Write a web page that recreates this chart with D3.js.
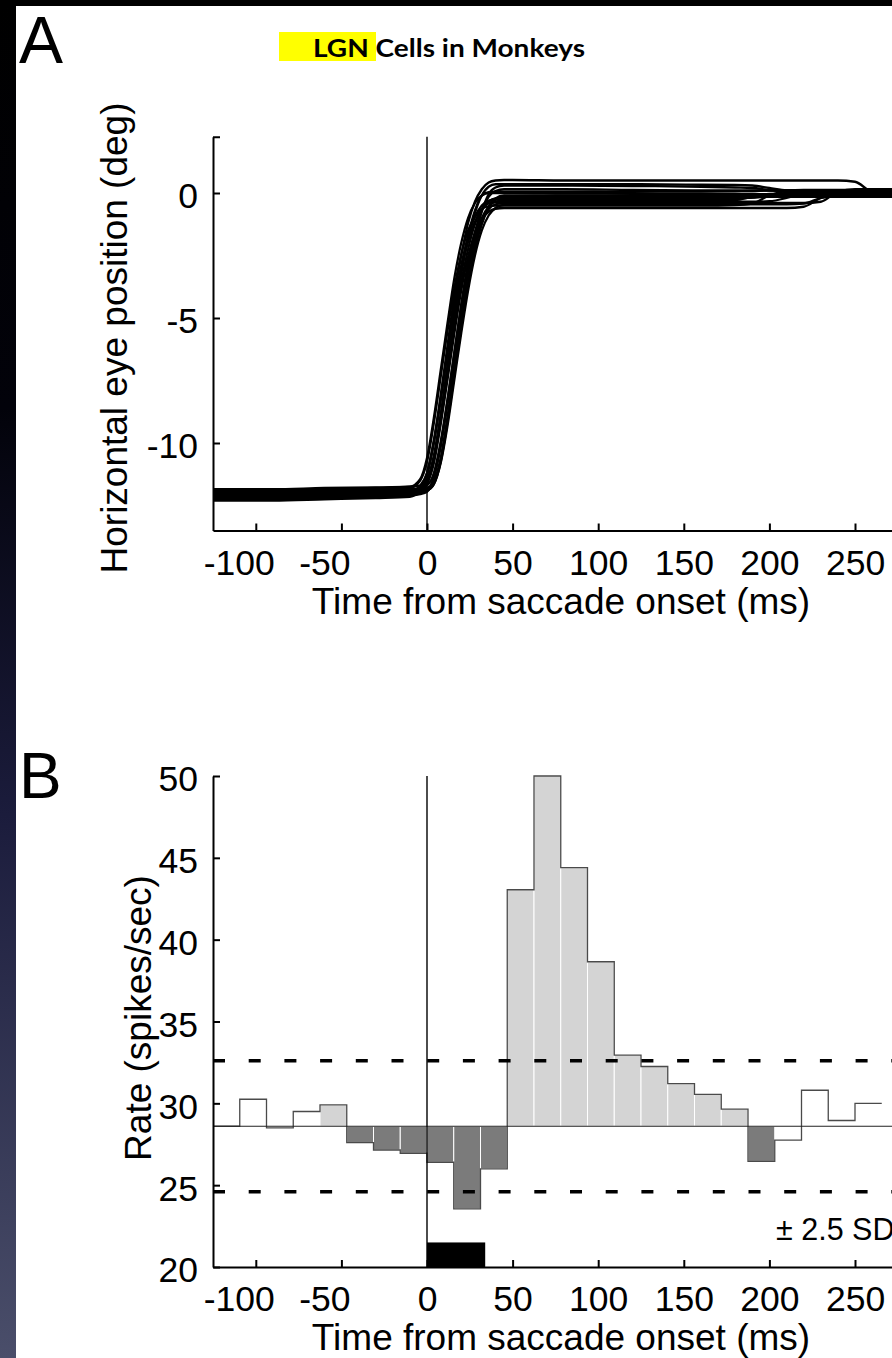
<!DOCTYPE html>
<html>
<head>
<meta charset="utf-8">
<script src="https://cdn.jsdelivr.net/npm/d3@7"></script>
<style>
  html, body { margin: 0; padding: 0; background: #fff; }
  svg { display: block; }
  text { font-family: "Liberation Sans", Arial, Helvetica, sans-serif; fill: #000; }
</style>
</head>
<body>
<svg id="chart" width="892" height="1358"></svg>
<script>
// ---------------- DATA ----------------
const titleText = "LGN Cells in Monkeys";
const panelLabels = ["A", "B"];
const xLabelText = "Time from saccade onset (ms)";
const eyeYLabel = "Horizontal eye position (deg)";
const rateYLabel = "Rate (spikes/sec)";
const sdLabel = "\u00B1 2.5 SD";

const timeDomain = [-125, 300];
const xTickValues = [-100, -50, 0, 50, 100, 150, 200, 250, 300];
const eyeDomain = [-13.5, 2.25];
const eyeTickValues = [-10, -5, 0, 2.25];
const rateDomain = [20, 50];
const rateTickValues = [20, 25, 30, 35, 40, 45, 50];

// Panel A: eye traces sampled at these times (ms)
const traceTimes = [-125, -90, -60, -30, -10, -4, 0, 4, 8, 12, 16, 20, 24, 28, 32, 36, 40, 45, 50, 80, 120, 160, 180, 190, 200, 210, 220, 230, 240, 250, 260, 270, 300];
const eyeTrace1  = [-12.15,-12.15,-12.1,-12.05,-12.0,-11.75,-11.2,-9.9,-8.1,-6.1,-4.1,-2.5,-1.2,-0.35,0.15,0.42,0.5,0.52,0.52,0.5,0.5,0.5,0.5,0.5,0.5,0.5,0.5,0.5,0.5,0.45,0.05,0.0,0.0];
const eyeTrace2  = [-12.0,-12.0,-11.95,-11.9,-11.85,-11.8,-11.55,-10.6,-8.95,-7.0,-5.1,-3.25,-1.85,-0.8,-0.1,0.25,0.35,0.35,0.35,0.35,0.35,0.33,0.32,0.3,0.2,0.1,0.08,0.08,0.08,0.08,0.08,0.08,0.08];
const eyeTrace3  = [-12.2,-12.2,-12.15,-12.1,-12.05,-12.0,-11.9,-11.35,-10.05,-8.3,-6.35,-4.45,-2.8,-1.55,-0.7,-0.15,0.08,0.15,0.15,0.15,0.12,0.1,0.1,0.1,0.1,0.1,0.1,0.1,0.1,0.1,0.1,0.1,0.1];
const eyeTrace4  = [-11.9,-11.9,-11.85,-11.8,-11.75,-11.45,-10.6,-9.0,-7.1,-5.2,-3.4,-2.0,-1.0,-0.4,-0.1,0.0,0.0,0.0,0.0,-0.02,-0.03,-0.03,-0.04,-0.04,-0.05,-0.05,-0.05,-0.05,-0.05,-0.05,-0.05,-0.05,-0.05];
const eyeTrace5  = [-12.1,-12.1,-12.05,-12.0,-11.95,-11.9,-11.85,-11.6,-10.7,-9.1,-7.2,-5.35,-3.6,-2.2,-1.2,-0.55,-0.22,-0.1,-0.1,-0.1,-0.1,-0.1,-0.1,-0.1,-0.1,-0.1,-0.1,-0.1,-0.1,-0.1,-0.1,-0.1,-0.1];
const eyeTrace6  = [-12.25,-12.25,-12.2,-12.15,-12.1,-12.0,-11.6,-10.7,-9.1,-7.25,-5.35,-3.6,-2.25,-1.25,-0.65,-0.35,-0.22,-0.2,-0.2,-0.2,-0.2,-0.2,-0.2,-0.18,-0.1,0.0,0.03,0.03,0.03,0.03,0.03,0.03,0.03];
const eyeTrace7  = [-12.0,-12.0,-11.95,-11.9,-11.85,-11.8,-11.7,-11.2,-9.95,-8.25,-6.4,-4.55,-2.95,-1.8,-1.0,-0.55,-0.35,-0.3,-0.3,-0.3,-0.3,-0.3,-0.28,-0.15,-0.04,-0.03,-0.03,-0.03,-0.03,-0.03,-0.03,-0.03,-0.03];
const eyeTrace8  = [-12.3,-12.3,-12.25,-12.2,-12.15,-11.9,-11.3,-10.0,-8.3,-6.4,-4.6,-3.05,-1.95,-1.15,-0.65,-0.42,-0.36,-0.35,-0.35,-0.35,-0.35,-0.35,-0.35,-0.35,-0.33,-0.2,0.0,0.05,0.05,0.05,0.05,0.05,0.05];
const eyeTrace9  = [-12.1,-12.1,-12.05,-12.0,-11.95,-11.95,-11.9,-11.65,-10.8,-9.3,-7.45,-5.6,-3.9,-2.5,-1.5,-0.9,-0.6,-0.47,-0.45,-0.45,-0.45,-0.45,-0.45,-0.45,-0.45,-0.45,-0.42,-0.2,-0.12,-0.12,-0.12,-0.12,-0.12];
const eyeTrace10 = [-12.2,-12.2,-12.15,-12.1,-12.05,-11.95,-11.65,-10.8,-9.25,-7.45,-5.6,-3.9,-2.55,-1.6,-1.05,-0.75,-0.63,-0.6,-0.6,-0.6,-0.6,-0.6,-0.6,-0.6,-0.6,-0.6,-0.55,-0.2,-0.08,-0.07,-0.07,-0.07,-0.07];
const eyeTrace11 = [-11.95,-11.95,-11.9,-11.85,-11.8,-11.5,-10.75,-9.2,-7.35,-5.5,-3.8,-2.45,-1.5,-0.95,-0.65,-0.53,-0.5,-0.5,-0.5,-0.5,-0.5,-0.5,-0.48,-0.42,-0.1,0.08,0.12,0.12,0.12,0.12,0.12,0.12,0.12];
const eyeTrace12 = [-12.05,-12.05,-12.0,-11.95,-11.9,-11.85,-11.8,-11.55,-10.6,-8.95,-6.95,-5.0,-3.2,-1.8,-0.75,-0.05,0.22,0.3,0.3,0.3,0.28,0.25,0.22,0.2,0.12,0.07,0.06,0.06,0.06,0.06,0.06,0.06,0.06];
const eyeTrace13 = [-12.1,-12.1,-12.05,-12.0,-11.95,-11.7,-11.2,-9.95,-8.2,-6.3,-4.45,-2.9,-1.75,-0.95,-0.5,-0.3,-0.26,-0.25,-0.25,-0.25,-0.25,-0.25,-0.22,-0.18,-0.15,-0.15,-0.15,-0.15,-0.15,-0.15,-0.15,-0.15,-0.15];
const eyeTrace14 = [-12.25,-12.25,-12.2,-12.15,-12.1,-12.05,-11.95,-11.4,-10.15,-8.45,-6.6,-4.75,-3.15,-1.95,-1.1,-0.65,-0.45,-0.4,-0.4,-0.4,-0.4,-0.4,-0.4,-0.4,-0.4,-0.4,-0.4,-0.35,0.05,0.15,0.15,0.15,0.15];
const eyeTrace15 = [-11.85,-11.85,-11.8,-11.78,-11.75,-11.7,-11.45,-10.5,-8.85,-6.9,-4.95,-3.1,-1.7,-0.7,-0.1,0.03,0.05,0.05,0.05,0.05,0.05,0.06,0.07,0.08,0.1,0.1,0.1,0.1,0.1,0.1,0.1,0.1,0.1];
const eyeTrace16 = [-12.15,-12.15,-12.1,-12.05,-12.0,-11.95,-11.9,-11.65,-10.75,-9.15,-7.25,-5.4,-3.65,-2.25,-1.25,-0.6,-0.27,-0.16,-0.15,-0.15,-0.15,-0.15,-0.15,-0.13,-0.08,-0.03,-0.02,-0.02,-0.02,-0.02,-0.02,-0.02,-0.02];
const eyeTraces = [eyeTrace1, eyeTrace2, eyeTrace3, eyeTrace4, eyeTrace5, eyeTrace6, eyeTrace7, eyeTrace8,
                   eyeTrace9, eyeTrace10, eyeTrace11, eyeTrace12, eyeTrace13, eyeTrace14, eyeTrace15, eyeTrace16];

// Panel B: peri-saccadic histogram
const binWidth = 15.625;
const binStarts = [-125,-109.375,-93.75,-78.125,-62.5,-46.875,-31.25,-15.625,0,15.625,31.25,46.875,62.5,78.125,93.75,109.375,125,140.625,156.25,171.875,187.5,203.125,218.75,234.375,250];
const rateValues = [28.6,30.25,28.5,29.5,29.9,27.6,27.15,26.95,26.4,23.55,26.0,43.05,50.0,44.4,38.65,32.95,32.25,31.2,30.55,29.65,26.45,27.75,30.8,28.95,30.0];
const binClass = ["ns","ns","ns","ns","up","down","down","down","down","down","down","up","up","up","up","up","up","up","up","up","down","ns","ns","ns","ns"];
const meanRate = 28.6;
const sdBounds = [24.6, 32.6];
const saccadeSpan = [0, 34];
const saccadeBarRange = [20, 21.5];

// ---------------- DRAWING ----------------
const svg = d3.select("#chart");
const W = 892, H = 1358;

const defs = svg.append("defs");
const grad = defs.append("linearGradient").attr("id", "leftStrip")
  .attr("x1", 0).attr("y1", 0).attr("x2", 0).attr("y2", 1);
grad.append("stop").attr("offset", "0%").attr("stop-color", "#000000");
grad.append("stop").attr("offset", "30%").attr("stop-color", "#02020a");
grad.append("stop").attr("offset", "60%").attr("stop-color", "#1b1c3c");
grad.append("stop").attr("offset", "100%").attr("stop-color", "#4a4e6a");
svg.append("rect").attr("x", 0).attr("y", 0).attr("width", W).attr("height", H).attr("fill", "#fff");
svg.append("rect").attr("x", 0).attr("y", 0).attr("width", 16).attr("height", H).attr("fill", "url(#leftStrip)");
svg.append("rect").attr("x", 0).attr("y", 0).attr("width", W).attr("height", 6).attr("fill", "#000");

// title
svg.append("rect").attr("x", 279).attr("y", 32).attr("width", 97).attr("height", 29).attr("fill", "#ffff00");
svg.append("text").attr("x", 313).attr("y", 56.5)
  .style("font-family", "Lato, 'Open Sans', sans-serif").style("font-weight", 700).style("font-size", "25px")
  .attr("textLength", 272).attr("lengthAdjust", "spacingAndGlyphs")
  .text(titleText);

// panel letters
svg.append("text").attr("x", 19).attr("y", 63).style("font-size", "66px").text(panelLabels[0]);
svg.append("text").attr("x", 19).attr("y", 798).style("font-size", "64px").text(panelLabels[1]);

const x = d3.scaleLinear().domain(timeDomain).range([213, 213 + 425 * 1.712]);
const yEye = d3.scaleLinear().domain(eyeDomain).range([530.5, 136.75]);
const yRate = d3.scaleLinear().domain(rateDomain).range([1267, 776]);

const tickFont = "35.5px";
const labelFont = "37px";

function styleAxis(g) {
  g.select(".domain").attr("stroke", "#000").attr("stroke-width", 2);
  g.selectAll(".tick line").attr("stroke", "#000").attr("stroke-width", 2);
  g.selectAll(".tick text").style("font-size", tickFont).style("font-family", "'Liberation Sans', Arial, sans-serif").attr("fill", "#000");
}

function drawXAxis(yPos) {
  const g = svg.append("g").attr("transform", `translate(0,${yPos})`)
    .call(d3.axisBottom(x).tickValues(xTickValues).tickSize(-7).tickSizeOuter(0).tickPadding(19));
  styleAxis(g);
  g.selectAll(".tick text").text(d => d < 0 ? "-" + Math.abs(d) : d).attr("dx", d => d < 0 ? -17 : 0);
  return g;
}

// ---------- Panel A ----------
const gA = svg.append("g");
gA.append("line").attr("x1", x(0)).attr("x2", x(0)).attr("y1", yEye(eyeDomain[1])).attr("y2", yEye(eyeDomain[0]))
  .attr("stroke", "#000").attr("stroke-width", 1.4);

const line = d3.line().x((d, i) => x(traceTimes[i])).y(d => yEye(d)).curve(d3.curveMonotoneX);
gA.selectAll("path.trace").data(eyeTraces).join("path").attr("class", "trace")
  .attr("d", line).attr("fill", "none").attr("stroke", "#000").attr("stroke-width", 2.3);

drawXAxis(yEye(eyeDomain[0]));
const gAy = svg.append("g").attr("transform", `translate(${x(timeDomain[0])},0)`)
  .call(d3.axisLeft(yEye).tickValues(eyeTickValues).tickSize(-7).tickSizeOuter(0).tickPadding(15)
    .tickFormat(d => d === 2.25 ? "" : (d < 0 ? "-" + Math.abs(d) : d)));
styleAxis(gAy);
gAy.selectAll(".tick text").attr("dy", "0.42em");

svg.append("text").attr("x", 561).attr("y", 614).attr("text-anchor", "middle").style("font-size", labelFont).text(xLabelText);
svg.append("text").attr("transform", "translate(127,338) rotate(-90)").attr("text-anchor", "middle").style("font-size", labelFont).text(eyeYLabel);

// ---------- Panel B ----------
const gB = svg.append("g");
const y0 = yRate(meanRate);
const colorOf = { up: "#d4d4d4", down: "#7b7b7b" };
const bins = binStarts.map((s, i) => ({ s, e: s + binWidth, v: rateValues[i], c: binClass[i] }));

gB.selectAll("rect.bar").data(bins.filter(b => b.c !== "ns")).join("rect").attr("class", "bar")
  .attr("x", d => x(d.s)).attr("width", d => x(d.e) - x(d.s))
  .attr("y", d => Math.min(yRate(d.v), y0)).attr("height", d => Math.abs(yRate(d.v) - y0))
  .attr("fill", d => colorOf[d.c]).attr("stroke", "#fff").attr("stroke-width", 1);

let p = d3.path();
bins.forEach((b, i) => {
  if (i === 0) p.moveTo(x(b.s), yRate(b.v)); else p.lineTo(x(b.s), yRate(b.v));
  p.lineTo(x(b.e), yRate(b.v));
});
gB.append("path").attr("d", p.toString()).attr("fill", "none").attr("stroke", "#4a4a4a").attr("stroke-width", 1.3);

gB.append("line").attr("x1", x(timeDomain[0])).attr("x2", x(timeDomain[1])).attr("y1", y0).attr("y2", y0)
  .attr("stroke", "#222").attr("stroke-width", 1.2);
gB.selectAll("line.sd").data(sdBounds).join("line").attr("class", "sd")
  .attr("x1", x(timeDomain[0])).attr("x2", x(timeDomain[1]))
  .attr("y1", d => yRate(d)).attr("y2", d => yRate(d))
  .attr("stroke", "#000").attr("stroke-width", 3.5).attr("stroke-dasharray", "12,23.7");
gB.append("rect").attr("x", x(saccadeSpan[0])).attr("width", x(saccadeSpan[1]) - x(saccadeSpan[0]))
  .attr("y", yRate(saccadeBarRange[1])).attr("height", yRate(saccadeBarRange[0]) - yRate(saccadeBarRange[1]))
  .attr("fill", "#000");
gB.append("line").attr("x1", x(0)).attr("x2", x(0)).attr("y1", yRate(rateDomain[1])).attr("y2", yRate(rateDomain[0]))
  .attr("stroke", "#000").attr("stroke-width", 1.4);

drawXAxis(yRate(rateDomain[0]));
const gBy = svg.append("g").attr("transform", `translate(${x(timeDomain[0])},0)`)
  .call(d3.axisLeft(yRate).tickValues(rateTickValues).tickSize(-7).tickSizeOuter(0).tickPadding(15));
styleAxis(gBy);
gBy.selectAll(".tick text").attr("dy", "0.42em");

svg.append("text").attr("x", 776).attr("y", 1240).style("font-size", "30.5px").text(sdLabel);
svg.append("text").attr("x", 561).attr("y", 1350).attr("text-anchor", "middle").style("font-size", labelFont).text(xLabelText);
svg.append("text").attr("transform", "translate(151,1018) rotate(-90)").attr("text-anchor", "middle").style("font-size", labelFont).text(rateYLabel);
</script>
</body>
</html>
